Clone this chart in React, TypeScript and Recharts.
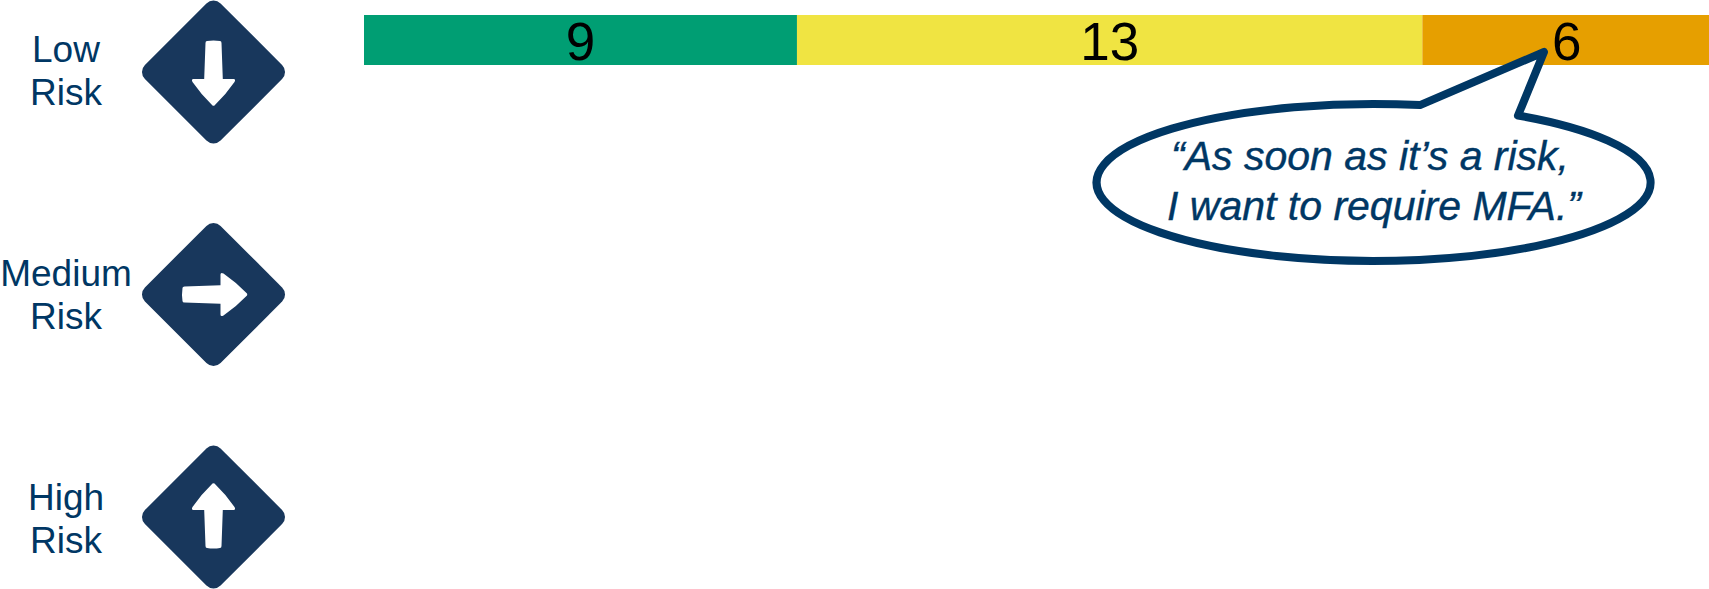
import { BarChart, Bar, XAxis, YAxis, LabelList } from "recharts"

const riskLevels = ["Low Risk", "Medium Risk", "High Risk"]
const lowCounts = [9, null, null]
const midCounts = [13, null, null]
const highCounts = [6, null, null]
const quoteLines = ["“As soon as it’s a risk,", "I want to require MFA.”"]

const GREEN = "#009e73"
const YELLOW = "#f0e442"
const ORANGE = "#e69f00"
const NAVY = "#003764"
const ICON_NAVY = "#18375c"
const FONT = "Liberation Sans, Arial, sans-serif"

const ARROW_ROTATION: Record<string, number> = {
  "Low Risk": 0,
  "Medium Risk": -90,
  "High Risk": 180,
}

// the row labels do not sit quite the same way against each icon
const LABEL_SHIFT: Record<string, number> = {
  "Low Risk": -1,
  "Medium Risk": 0,
  "High Risk": 2,
}

const chartData = riskLevels.map((risk, index) => ({
  risk,
  low: lowCounts[index],
  mid: midCounts[index],
  high: highCounts[index],
}))

// label on the left and diamond icon, both hung off the row tick
const RiskTick = ({ y, payload }: any) => {
  const [first, second] = payload.value.split(" ")
  const shift = LABEL_SHIFT[payload.value]
  return (
    <g>
      <text x={66} y={y - 9 + shift} textAnchor="middle" fontFamily={FONT} fontSize={37} fill={NAVY}>
        {first}
      </text>
      <text x={66} y={y + 34 + shift} textAnchor="middle" fontFamily={FONT} fontSize={37} fill={NAVY}>
        {second}
      </text>
      <g transform={`translate(213.5 ${y})`}>
        <rect x={-53.5} y={-53.5} width={107} height={107} rx={10} fill={ICON_NAVY} transform="rotate(45)" />
        <path
          d="M-6.5 -31 Q0 -32 6.5 -31 Q8 -31 8 -29 L9.3 7 L20 7 Q22.5 7 21 10 Q12 23 1 33.5 Q0 34 -1 33.5 Q-12 23 -21 10 Q-22.5 7 -20 7 L-9.3 7 L-8 -29 Q-8 -31 -6.5 -31 Z"
          fill="#ffffff"
          transform={`rotate(${ARROW_ROTATION[payload.value]})`}
        />
      </g>
    </g>
  )
}

const Callout = () => (
  <svg
    width={1709}
    height={589}
    style={{ position: "absolute", left: 0, top: 0, pointerEvents: "none" }}
  >
    <path
      d="M1420 105.1 L1544 52 L1518 115.5 A277 78.5 0 1 1 1420 105.1 Z"
      fill="#ffffff"
      stroke={NAVY}
      strokeWidth={8}
      strokeLinejoin="round"
    />
    <g fontFamily={FONT} fontStyle="italic" fontSize={41} fill={NAVY} stroke={NAVY} strokeWidth={0.4} textAnchor="middle">
      <text x={1370} y={170}>{quoteLines[0]}</text>
      <text x={1374} y={220}>{quoteLines[1]}</text>
    </g>
  </svg>
)

const valueLabel = { position: "center" as const, fill: "#000000", fontSize: 53, fontFamily: FONT, dy: 1.5 }

export default function App() {
  return (
    <div style={{ position: "absolute", left: 0, top: 0, width: 1709, height: 589 }}>
      <BarChart
        width={1709}
        height={589}
        data={chartData}
        layout="vertical"
        margin={{ top: 0, right: -2, bottom: 0, left: 0 }}
        barSize={50}
      >
        <XAxis type="number" domain={[0, 28]} hide />
        <YAxis
          yAxisId="rows"
          type="category"
          dataKey="risk"
          scale="point"
          width={364}
          padding={{ top: 72, bottom: 72 }}
          interval={0}
          axisLine={false}
          tickLine={false}
          tick={<RiskTick />}
        />
        <YAxis
          yAxisId="bars"
          type="category"
          dataKey="risk"
          hide
          padding={{ top: 0, bottom: 349 }}
        />
        <Bar dataKey="low" yAxisId="bars" stackId="risk" fill={GREEN} isAnimationActive={false}>
          <LabelList dataKey="low" {...valueLabel} />
        </Bar>
        <Bar dataKey="mid" yAxisId="bars" stackId="risk" fill={YELLOW} isAnimationActive={false}>
          <LabelList dataKey="mid" {...valueLabel} />
        </Bar>
        <Bar dataKey="high" yAxisId="bars" stackId="risk" fill={ORANGE} isAnimationActive={false}>
          <LabelList dataKey="high" {...valueLabel} />
        </Bar>
      </BarChart>
      <Callout />
    </div>
  )
}
